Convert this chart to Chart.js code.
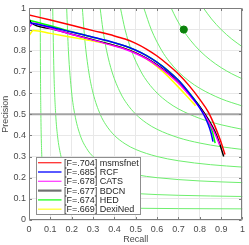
<!DOCTYPE html>
<html><head><meta charset="utf-8">
<script src="https://cdn.jsdelivr.net/npm/chart.js@4/dist/chart.umd.min.js"></script>
<style>html,body{margin:0;padding:0;background:#fff;overflow:hidden}#wrap{width:249px;height:245px;position:relative}canvas{display:block}</style>
</head><body><div id="wrap"><canvas id="c" width="249" height="245" style="width:249px;height:245px"></canvas></div>
<script>
// ---- data ----
const methods = ['msmsfnet', 'RCF', 'CATS', 'BDCN', 'HED', 'DexiNed'];
const fScores = ['.704', '.685', '.678', '.677', '.674', '.669'];

const msmsfnetRecall    = [0, 0.1, 0.2, 0.3, 0.4, 0.45, 0.5, 0.55, 0.6, 0.65, 0.7, 0.75, 0.8, 0.84, 0.87, 0.895, 0.918];
const msmsfnetPrecision = [0.969, 0.945, 0.92, 0.895, 0.87, 0.855, 0.835, 0.808, 0.775, 0.735, 0.69, 0.635, 0.57, 0.51, 0.445, 0.38, 0.31];

const rcfRecall    = [0, 0.1, 0.2, 0.3, 0.4, 0.45, 0.5, 0.55, 0.6, 0.65, 0.7, 0.75, 0.79, 0.82, 0.84, 0.853, 0.862];
const rcfPrecision = [0.934, 0.912, 0.888, 0.864, 0.838, 0.822, 0.802, 0.777, 0.745, 0.705, 0.66, 0.6, 0.545, 0.495, 0.45, 0.41, 0.37];

const catsRecall    = [0, 0.02, 0.1, 0.2, 0.3, 0.4, 0.45, 0.5, 0.55, 0.6, 0.65, 0.7, 0.75, 0.8, 0.84, 0.87, 0.893];
const catsPrecision = [0.91, 0.93, 0.906, 0.877, 0.85, 0.822, 0.807, 0.787, 0.762, 0.73, 0.692, 0.647, 0.592, 0.53, 0.467, 0.41, 0.355];

const bdcnRecall    = [0, 0.01, 0.1, 0.2, 0.3, 0.4, 0.45, 0.5, 0.55, 0.6, 0.65, 0.7, 0.75, 0.8, 0.84, 0.87, 0.893, 0.912];
const bdcnPrecision = [0.95, 0.932, 0.905, 0.878, 0.852, 0.825, 0.81, 0.79, 0.765, 0.733, 0.695, 0.65, 0.595, 0.535, 0.475, 0.42, 0.36, 0.30];

const hedRecall    = [0, 0.1, 0.2, 0.3, 0.4, 0.45, 0.5, 0.55, 0.6, 0.65, 0.7, 0.75, 0.8, 0.835, 0.858, 0.872];
const hedPrecision = [0.944, 0.918, 0.89, 0.864, 0.837, 0.822, 0.803, 0.778, 0.746, 0.707, 0.66, 0.602, 0.535, 0.475, 0.42, 0.363];

const dexinedRecall    = [0, 0.02, 0.1, 0.2, 0.3, 0.4, 0.45, 0.5, 0.55, 0.6, 0.65, 0.7, 0.74, 0.78];
const dexinedPrecision = [0.872, 0.895, 0.882, 0.864, 0.846, 0.825, 0.81, 0.79, 0.762, 0.725, 0.68, 0.628, 0.585, 0.54];

const humanRecall = [0.725];
const humanPrecision = [0.90];

const referencePrecision = [0.5, 0.5];
const referenceRecall = [0, 1];

// iso-F contours (one half each; the other half is the mirror image)
const isoFLevels = [0.1, 0.2, 0.3, 0.4, 0.5, 0.6, 0.7, 0.8, 0.9];
const isoHalfRecall = [
  [0.1, 0.12, 0.15, 0.2, 0.3, 0.5, 0.7, 1],
  [0.2, 0.22, 0.25, 0.3, 0.4, 0.5, 0.7, 1],
  [0.3, 0.33, 0.4, 0.5, 0.6, 0.8, 1],
  [0.4, 0.45, 0.5, 0.6, 0.7, 0.85, 1],
  [0.5, 0.55, 0.6, 0.7, 0.8, 0.9, 1],
  [0.6, 0.65, 0.7, 0.8, 0.9, 1],
  [0.7, 0.75, 0.8, 0.9, 1],
  [0.8, 0.85, 0.9, 0.95, 1],
  [0.9, 0.95, 1]
];
const isoHalfPrecision = [
  [0.1, 0.0857, 0.075, 0.0667, 0.06, 0.0556, 0.0538, 0.0526],
  [0.2, 0.1833, 0.1667, 0.15, 0.1333, 0.125, 0.1167, 0.1111],
  [0.3, 0.275, 0.24, 0.2143, 0.2, 0.1846, 0.1765],
  [0.4, 0.36, 0.3333, 0.3, 0.28, 0.2615, 0.25],
  [0.5, 0.4583, 0.4286, 0.3889, 0.3636, 0.3462, 0.3333],
  [0.6, 0.5571, 0.525, 0.48, 0.45, 0.4286],
  [0.7, 0.6563, 0.6222, 0.5727, 0.5385],
  [0.8, 0.7556, 0.72, 0.6909, 0.6667],
  [0.9, 0.855, 0.8182]
];

const tickValues = [0, 0.1, 0.2, 0.3, 0.4, 0.5, 0.6, 0.7, 0.8, 0.9, 1];
const tickLabels = ['0', '0.1', '0.2', '0.3', '0.4', '0.5', '0.6', '0.7', '0.8', '0.9', '1'];

// ---- styles ----
const seriesColors = ['#ff0000', '#0000ff', '#ff00ff', '#000000', '#00ff00', '#ffff00'];
const legendSampleColors = ['#ff3030', '#0000ff', '#ff40ff', '#707070', '#20ff20', '#ffff30'];
const FONT = "'Liberation Sans', Arial, Helvetica, sans-serif";

function pts(rs, ps) { return rs.map((r, i) => ({ x: r, y: ps[i] })); }

const seriesRecall = [msmsfnetRecall, rcfRecall, catsRecall, bdcnRecall, hedRecall, dexinedRecall];
const seriesPrecision = [msmsfnetPrecision, rcfPrecision, catsPrecision, bdcnPrecision, hedPrecision, dexinedPrecision];

const datasets = [];
isoFLevels.forEach((f, k) => {
  const hr = isoHalfRecall[k], hp = isoHalfPrecision[k];
  const mirrored = [];
  for (let i = hr.length - 1; i >= 1; i--) mirrored.push({ x: hp[i], y: hr[i] });
  const data = mirrored.concat(pts(hr, hp));
  datasets.push({ label: 'F=' + f, data, borderColor: 'rgb(110,238,110)', borderWidth: 1, pointRadius: 0,
    cubicInterpolationMode: 'monotone', order: 20 });
});
datasets.push({ label: 'ref', data: pts(referenceRecall, referencePrecision), borderColor: '#a3a3a3', borderWidth: 2,
  pointRadius: 0, order: 15 });
methods.forEach((m, i) => {
  datasets.push({ label: '[F=' + fScores[i] + '] ' + m, data: pts(seriesRecall[i], seriesPrecision[i]),
    borderColor: seriesColors[i], borderWidth: 1.5, pointRadius: 0, cubicInterpolationMode: 'monotone',
    order: 1 + i, legendIndex: i });
});
datasets.push({ type: 'scatter', label: 'human', data: pts(humanRecall, humanPrecision), backgroundColor: '#0b820b',
  borderColor: '#0b820b', pointRadius: 3.6, order: 0 });

const frameAndLegend = {
  id: 'frameAndLegend',
  afterDatasetsDraw(chart) {
    const ctx = chart.ctx, a = chart.chartArea;
    const xs = chart.scales.x, ys = chart.scales.y;
    ctx.save();
    ctx.strokeStyle = '#7d7d7d';
    ctx.lineWidth = 1;
    const L = Math.round(a.left) + 0.5, R = Math.round(a.right) - 0.5, T = Math.round(a.top) + 0.5, B = Math.round(a.bottom) - 0.5;
    ctx.beginPath();
    ctx.rect(L, T, R - L, B - T);
    tickValues.forEach(v => {
      const px = Math.round(xs.getPixelForValue(v)) + 0.5;
      ctx.moveTo(px, B); ctx.lineTo(px, B - 2.5);
      ctx.moveTo(px, T); ctx.lineTo(px, T + 2.5);
      const py = Math.round(ys.getPixelForValue(v)) + 0.5;
      ctx.moveTo(L, py); ctx.lineTo(L + 2.5, py);
      ctx.moveTo(R, py); ctx.lineTo(R - 2.5, py);
    });
    ctx.stroke();

    // legend box
    const items = chart.data.datasets.filter(d => d.legendIndex !== undefined);
    const x0 = a.left + 7, w = 104, h = 57, rowH = 9.3;
    const y0 = a.bottom - 6 - h;
    ctx.fillStyle = '#ffffff';
    ctx.fillRect(x0, y0, w, h);
    ctx.strokeStyle = '#8f8f8f';
    ctx.strokeRect(Math.round(x0) + 0.5, Math.round(y0) + 0.5, w, h);
    ctx.font = '9px ' + FONT;
    ctx.textBaseline = 'middle';
    items.forEach((d, i) => {
      const y = y0 + 5.7 + i * rowH;
      ctx.strokeStyle = legendSampleColors[d.legendIndex];
      ctx.lineWidth = d.legendIndex === 3 ? 2.2 : 1.3;
      ctx.beginPath();
      ctx.moveTo(x0 + 2, y); ctx.lineTo(x0 + 25.5, y);
      ctx.stroke();
      ctx.fillStyle = '#262626';
      ctx.fillText(d.label, x0 + 28, y + 0.5);
    });
    ctx.restore();
  }
};

function axisOpts(title, isX) {
  return {
    type: 'linear', min: 0, max: 1,
    afterBuildTicks: s => { s.ticks = tickValues.map(v => ({ value: v })); },
    ticks: { callback: (v, i) => tickLabels[i], font: { family: FONT, size: 9 }, color: '#4a4a4a',
      padding: isX ? 4 : 3, maxRotation: 0, autoSkip: false },
    grid: { color: '#e8e8e8', drawTicks: false, lineWidth: 1 },
    border: { display: false },
    title: { display: true, text: title, font: { family: FONT, size: 9 }, color: '#4a4a4a', padding: { top: 0, bottom: 0 } },
    afterFit: s => { if (isX) s.height = 25; else s.width = 29; }
  };
}

new Chart(document.getElementById('c'), {
  type: 'line',
  data: { datasets },
  options: {
    responsive: false, animation: false, maintainAspectRatio: false,
    layout: { padding: { top: 4, right: 3, left: 0, bottom: 0 } },
    plugins: { legend: { display: false }, tooltip: { enabled: false } },
    scales: { x: axisOpts('Recall', true), y: axisOpts('Precision', false) }
  },
  plugins: [frameAndLegend]
});
</script></body></html>
